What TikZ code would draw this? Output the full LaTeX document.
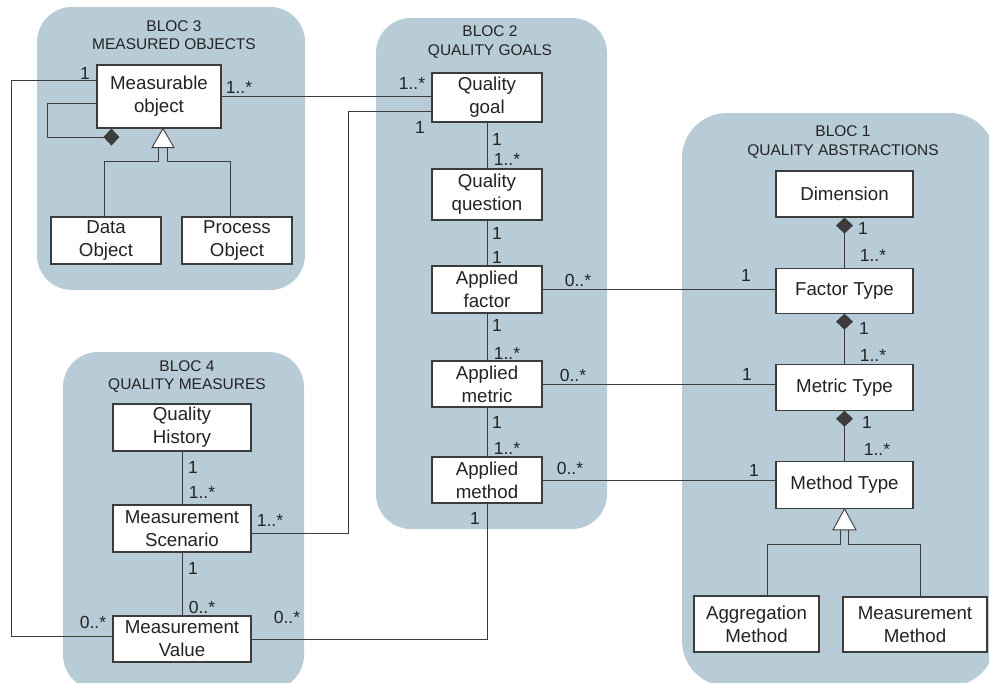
\documentclass[tikz,border=0pt]{standalone}
\usepackage{fontspec}
\setmainfont{Liberation Sans}
\usetikzlibrary{arrows.meta,positioning}
\definecolor{blocblue}{RGB}{184,204,216}
\definecolor{linegray}{RGB}{60,60,60}
\definecolor{textgray}{RGB}{35,35,35}

\begin{document}
\begin{tikzpicture}[
		x=1pt, y=-1pt,
		every node/.style={text=textgray},
		classbox/.style={draw=linegray, line width=1.1pt, fill=white, align=center, inner sep=0pt, minimum height=47pt, font=\fontsize{18.7}{23}\selectfont},
		bloctitle/.style={align=center, inner sep=0pt, font=\fontsize{15.5}{18.5}\selectfont},
		mult/.style={inner sep=0pt, font=\fontsize{17.5}{20}\selectfont},
		bloc/.style={fill=blocblue, rounded corners=35pt},
		link/.style={draw=linegray, line width=0.9pt},
		compo/.style={link, -{Diamond[length=16pt,width=17pt]}},
		gener/.style={draw=linegray, line width=0.9pt, fill=white}
	]
	\clip (0,0) rectangle (989,683) ;

	% blocs
	\fill [bloc] (37,7) rectangle (305,290) ;
	\fill [bloc] (376,18) rectangle (607,529) ;
	\fill [bloc, rounded corners=45pt] (682,113) rectangle (995,686) ;
	\fill [bloc] (63,352) rectangle (304,690) ;

	\node [bloctitle] (t3) at (174,35.25) {BLOC 3\\MEASURED OBJECTS} ;
	\node [bloctitle] (t2) at (490,42)    {BLOC 2\\QUALITY GOALS} ;
	\node [bloctitle] (t1) at (843,142)   {BLOC 1\\QUALITY ABSTRACTIONS} ;
	\node [bloctitle] (t4) at (187,376.5) {BLOC 4\\QUALITY MEASURES} ;

	% bloc 3
	\node [classbox, minimum width=124pt, minimum height=63pt] (mobj) at (159,96.5) {Measurable\\object} ;
	\node [classbox, minimum width=110pt] (dobj) at (106,240.5) {Data\\Object} ;
	\node [classbox, minimum width=110pt] (pobj) at (237,240.5) {Process\\Object} ;

	% bloc 2
	\node [classbox, minimum width=110pt, minimum height=49pt] (qgoal)   at (487,97.5)  {Quality\\goal} ;
	\node [classbox, minimum width=110pt, minimum height=51pt] (qquest)  at (487,194.5) {Quality\\question} ;
	\node [classbox, minimum width=110pt]                      (afactor) at (487,289.5) {Applied\\factor} ;
	\node [classbox, minimum width=110pt, minimum height=46pt] (ametric) at (487,384)   {Applied\\metric} ;
	\node [classbox, minimum width=110pt, minimum height=46pt] (amethod) at (487,480)   {Applied\\method} ;

	% bloc 1
	\node [classbox, minimum width=137pt, minimum height=46pt] (dim) at (844.5,194) {Dimension} ;
	\node [classbox, minimum width=137pt, minimum height=45pt, below=50pt of dim]   (ftype) {Factor Type} ;
	\node [classbox, minimum width=137pt, minimum height=46pt, below=50pt of ftype] (mtype) {Metric Type} ;
	\node [classbox, minimum width=137pt, below=50pt of mtype]                      (metht) {Method Type} ;
	\node [classbox, minimum width=125pt, minimum height=56pt] (aggm)  at (756.5,624) {Aggregation\\Method} ;
	\node [classbox, minimum width=144pt, minimum height=55pt] (measm) at (915,624.5) {Measurement\\Method} ;

	% bloc 4
	\node [classbox, minimum width=138pt] (qhist) at (182,427.5) {Quality\\History} ;
	\node [classbox, minimum width=138pt] (mscen) at (182,528.5) {Measurement\\Scenario} ;
	\node [classbox, minimum width=138pt, minimum height=46pt] (mval) at (182,639) {Measurement\\Value} ;

	% links
	\draw [link]  ([yshift=16.5pt]mobj.west) -- ++(-85,0) |- ([yshift=3pt]mval.west) ;
	\draw [link]  (mobj.east) -- (mobj.east -| qgoal.west) ;
	\draw [compo] ([yshift=-6.5pt]mobj.west) -- ++(-49,0) |- ([xshift=23pt,yshift=-8.5pt]mobj.south west) ;
	\coordinate (mgen) at ([xshift=4pt,yshift=-19pt]mobj.south) ;
	\draw [gener] ([xshift=4pt]mobj.south) -- ([xshift=-11pt]mgen) -- ([xshift=11pt]mgen) -- cycle ;
	\draw [link]  ([xshift=-4.5pt]mgen) -- ++(0,14) -| ([xshift=-2pt]dobj.north) ;
	\draw [link]  ([xshift=4.5pt]mgen) -- ++(0,14) -| ([xshift=-7pt]pobj.north) ;

	\draw [link] ([yshift=11pt]qgoal.south west) -- ++(-83,0) |- ([yshift=-4.5pt]mscen.east) ;
	\draw [link] (qgoal)   -- (qquest) ;
	\draw [link] (qquest)  -- (afactor) ;
	\draw [link] (afactor) -- (ametric) ;
	\draw [link] (ametric) -- (amethod) ;
	\draw [link] (amethod.south) |- (mval.east) ;
	\draw [link] (afactor.east) -- (afactor.east -| ftype.west) ;
	\draw [link] (ametric.east) -- (ametric.east -| mtype.west) ;
	\draw [link] (amethod.east) -- (amethod.east -| metht.west) ;

	\draw [compo] (ftype) -- (dim) ;
	\draw [compo] (mtype) -- (ftype) ;
	\draw [compo] (metht) -- (mtype) ;
	\coordinate (tgen) at ([yshift=-21pt]metht.south) ;
	\draw [gener] (metht.south) -- ([xshift=-11.5pt]tgen) -- ([xshift=11.5pt]tgen) -- cycle ;
	\draw [link]  ([xshift=-4pt]tgen) -- ++(0,15) -| ([xshift=10.5pt]aggm.north) ;
	\draw [link]  ([xshift=4pt]tgen) -- ++(0,15) -| ([xshift=5pt]measm.north) ;

	\draw [link] (qhist) -- (mscen) ;
	\draw [link] (mscen) -- (mval) ;

	% multiplicities
	\node [mult] (m1)  at (85,73)   {1} ;
	\node [mult] (m2)  at (239,87)  {1..*} ;
	\node [mult] (m3)  at (412,83)  {1..*} ;
	\node [mult] (m4)  at (420,127) {1} ;
	\node [mult] (m5)  at (497,139) {1} ;
	\node [mult] (m6)  at (507,159) {1..*} ;
	\node [mult] (m7)  at (497,233) {1} ;
	\node [mult] (m8)  at (497,257) {1} ;
	\node [mult] (m9)  at (497,325) {1} ;
	\node [mult] (m10) at (507,353) {1..*} ;
	\node [mult] (m11) at (497,422) {1} ;
	\node [mult] (m12) at (507,448) {1..*} ;
	\node [mult] (m13) at (475,518) {1} ;
	\node [mult] (m14) at (578,280) {0..*} ;
	\node [mult] (m15) at (573,375) {0..*} ;
	\node [mult] (m16) at (570,468) {0..*} ;
	\node [mult] (m17) at (746,275) {1} ;
	\node [mult] (m18) at (747,374) {1} ;
	\node [mult] (m19) at (754,470) {1} ;
	\node [mult] (m20) at (863,228) {1} ;
	\node [mult] (m21) at (873,255) {1..*} ;
	\node [mult] (m22) at (864,328) {1} ;
	\node [mult] (m23) at (873,355) {1..*} ;
	\node [mult] (m24) at (867,422) {1} ;
	\node [mult] (m25) at (877,449) {1..*} ;
	\node [mult] (m26) at (193,467) {1} ;
	\node [mult] (m27) at (202,492) {1..*} ;
	\node [mult] (m28) at (193,568) {1} ;
	\node [mult] (m29) at (202,607) {0..*} ;
	\node [mult] (m30) at (270,520) {1..*} ;
	\node [mult] (m31) at (93,622)  {0..*} ;
	\node [mult] (m32) at (287,617) {0..*} ;
\end{tikzpicture}
\end{document}
